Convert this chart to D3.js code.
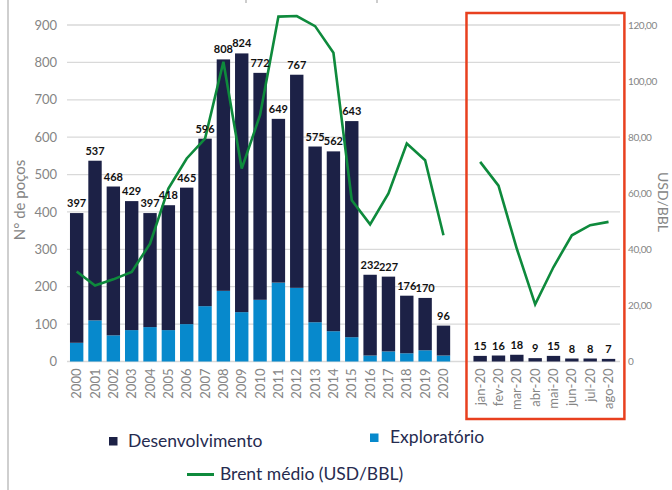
<!DOCTYPE html>
<html>
<head>
<meta charset="utf-8">
<script src="https://cdn.jsdelivr.net/npm/d3@7"></script>
<style>
  body { margin: 0; background: #fff; }
  svg text { font-family: Lato, "Open Sans", sans-serif; }
</style>
</head>
<body>
<div id="chart"></div>
<script>
// DATA
const anos = ['2000','2001','2002','2003','2004','2005','2006','2007','2008','2009','2010',
  '2011','2012','2013','2014','2015','2016','2017','2018','2019','2020'];
const meses = ['jan-20','fev-20','mar-20','abr-20','mai-20','jun-20','jul-20','ago-20'];

const desenvAnos = [347,427,398,345,305,334,365,448,619,692,607,438,570,470,481,578,216,200,154,140,80];
const explorAnos = [50,110,70,84,92,84,100,148,189,132,165,211,197,105,81,65,16,27,22,30,16];
const desenvMeses = [15,16,18,9,15,8,8,7];
const explorMeses = [0,0,0,0,0,0,0,0];

const brentAnos = [32.1,27.1,29.3,31.9,42,61.7,72.4,79.5,106.9,68.8,87.9,123,123.2,119.6,110.1,57.5,48.9,59.9,77.7,71.8,45];
const brentMeses = [71.2,62.7,40.2,20.4,33.7,45,48.6,49.8];

const leftTicks = [0,100,200,300,400,500,600,700,800,900];
const rightTicks = [0,20,40,60,80,100,120];

// colours
const corDesenv = '#1c2146';
const corExplor = '#0789cc';
const corBrent = '#0e8a3c';
const corCaixa = '#e8401f';
const corTexto = '#858585';

document.addEventListener('DOMContentLoaded', function(){
  drawChart();
});

function drawChart() {
  const width = 672, height = 490;
  const svg = d3.select('#chart').append('svg')
    .attr('width', width).attr('height', height);

  // frame bits from the original page
  svg.append('line').attr('x1', 8).attr('x2', 8).attr('y1', 0).attr('y2', height)
    .attr('stroke', '#cfcfcf').attr('stroke-width', 2);
  [246, 377].forEach(x => {
    svg.append('line').attr('x1', x).attr('x2', x).attr('y1', 0).attr('y2', 3)
      .attr('stroke', '#bdbdbd').attr('stroke-width', 1.5);
  });

  // rows: years, a blank slot, then months
  let rows = [];
  anos.forEach((a, i) => rows.push({cat: a, dev: desenvAnos[i], exp: explorAnos[i], brent: brentAnos[i]}));
  rows.push({cat: 'gap', dev: null, exp: null, brent: null});
  meses.forEach((m, i) => rows.push({cat: m, dev: desenvMeses[i], exp: explorMeses[i], brent: brentMeses[i]}));

  const x = d3.scaleBand().domain(rows.map(d => d.cat)).range([67.5, 617.7]).paddingInner(0.27).paddingOuter(0.135);
  const y = d3.scaleLinear().domain([0, 900]).range([361.5, 25]);
  const y2 = d3.scaleLinear().domain([0, 120]).range([361.5, 25]);

  // gridlines
  svg.append('g').selectAll('line').data(leftTicks).enter().append('line')
    .attr('x1', 67).attr('x2', 620)
    .attr('y1', d => y(d)).attr('y2', d => y(d))
    .attr('stroke', '#d9d9d9').attr('stroke-width', 1.3);

  // left axis
  const leftAx = d3.axisLeft(y).tickValues(leftTicks).tickSize(0).tickPadding(10);
  const gl = svg.append('g').attr('transform', 'translate(67,0)').call(leftAx);
  gl.select('.domain').remove();
  gl.selectAll('text').attr('fill', corTexto).style('font-size', '13px');

  // right axis
  const virg = d3.formatLocale({decimal: ',', thousands: '.', grouping: [3], currency: ['', '']}).format('.2f');
  const rightAx = d3.axisRight(y2).tickValues(rightTicks).tickSize(0).tickPadding(8)
    .tickFormat(d => d === 0 ? '0' : virg(d));
  const gr = svg.append('g').attr('transform', 'translate(620,0)').call(rightAx);
  gr.select('.domain').remove();
  gr.selectAll('text').attr('fill', corTexto).style('font-size', '10px').style('letter-spacing', '-0.4px');

  // axis titles
  svg.append('text').attr('transform', 'translate(25,200) rotate(-90)')
    .attr('text-anchor', 'middle').attr('fill', corTexto).style('font-size', '15px')
    .text('N° de poços');
  svg.append('text').attr('transform', 'translate(658,202) rotate(90)')
    .attr('text-anchor', 'middle').attr('fill', corTexto).style('font-size', '14px')
    .text('USD/BBL');

  // x labels
  const bottomAx = d3.axisBottom(x).tickSize(0).tickValues(rows.filter(d => d.cat !== 'gap').map(d => d.cat));
  const gb = svg.append('g').attr('transform', 'translate(0,' + y(0) + ')').call(bottomAx);
  gb.select('.domain').remove();
  gb.selectAll('text')
    .attr('fill', corTexto).style('font-size', '13px')
    .attr('text-anchor', 'end')
    .attr('transform', 'rotate(-90)')
    .attr('x', -7).attr('y', 0).attr('dy', '0.35em');

  const bars = rows.filter(d => d.cat !== 'gap');

  // bars: exploratorio at the bottom, desenvolvimento on top
  svg.append('g').selectAll('rect').data(bars).enter().append('rect')
    .attr('x', d => x(d.cat)).attr('width', x.bandwidth())
    .attr('y', d => y(d.exp)).attr('height', d => y(0) - y(d.exp))
    .attr('fill', corExplor);
  svg.append('g').selectAll('rect').data(bars).enter().append('rect')
    .attr('x', d => x(d.cat)).attr('width', x.bandwidth())
    .attr('y', d => y(d.exp + d.dev)).attr('height', d => y(d.exp) - y(d.exp + d.dev))
    .attr('fill', corDesenv);

  // brent line (two pieces)
  const line = d3.line().x(d => x(d.cat) + x.bandwidth() / 2).y(d => y2(d.brent));
  [rows.slice(0, anos.length), rows.slice(anos.length + 1)].forEach(seg => {
    svg.append('path').datum(seg).attr('d', line)
      .attr('fill', 'none').attr('stroke', corBrent).attr('stroke-width', 2.6)
      .attr('stroke-linejoin', 'miter');
  });

  // value labels
  svg.append('g').selectAll('text').data(bars).enter().append('text')
    .attr('x', d => x(d.cat) + x.bandwidth() / 2)
    .attr('y', d => y(d.exp + d.dev) - 6)
    .attr('text-anchor', 'middle')
    .style('font-size', '11px').style('font-weight', 'bold').attr('fill', '#111')
    .text(d => d.exp + d.dev);

  // red box round the months
  const stepX = x.step();
  const bx0 = x(meses[0]) - stepX * 0.38;
  const bx1 = x(meses[meses.length - 1]) + x.bandwidth() + stepX * 0.5;
  svg.append('rect').attr('x', bx0).attr('y', 13).attr('width', bx1 - bx0).attr('height', 406)
    .attr('fill', 'none').attr('stroke', corCaixa).attr('stroke-width', 2.5);

  // legend
  const leg = svg.append('g');
  leg.append('rect').attr('x', 109).attr('y', 437).attr('width', 8.5).attr('height', 8.5).attr('fill', corDesenv);
  leg.append('text').attr('x', 128).attr('y', 447).attr('fill', '#262b4f').style('font-size', '17.5px').text('Desenvolvimento');
  leg.append('rect').attr('x', 370).attr('y', 433.5).attr('width', 8.5).attr('height', 8.5).attr('fill', corExplor);
  leg.append('text').attr('x', 390).attr('y', 443).attr('fill', '#262b4f').style('font-size', '17.5px').text('Exploratório');
  leg.append('line').attr('x1', 187).attr('x2', 214).attr('y1', 474.5).attr('y2', 474.5)
    .attr('stroke', corBrent).attr('stroke-width', 3);
  leg.append('text').attr('x', 220).attr('y', 480).attr('fill', '#262b4f').style('font-size', '17.5px').text('Brent médio (USD/BBL)');
}
</script>
</body>
</html>
